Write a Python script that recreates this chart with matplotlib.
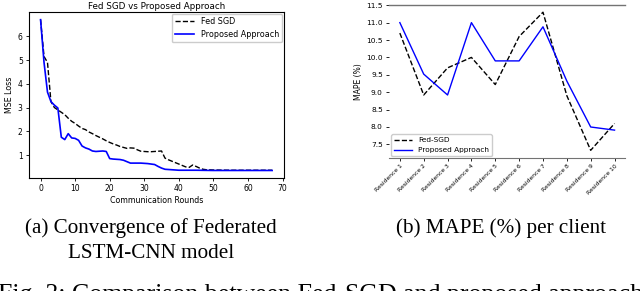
import matplotlib
matplotlib.use('Agg')
import matplotlib.pyplot as plt

# (a) convergence (round, loss) breakpoints
fed_rounds = [0, 1, 2, 3, 4, 5, 6, 7, 8, 9, 10, 11, 12, 13, 14, 15, 16, 17,
              18, 19, 20, 21, 22, 23, 24, 25, 26, 27, 28, 29, 30, 31, 32, 33,
              34, 35, 36, 37, 38, 39, 40, 41, 42, 43, 44, 45, 46, 47, 48, 50,
              55, 60, 67]
fed_loss = [6.7, 5.15, 4.9, 3.25, 3.0, 2.9, 2.8, 2.7, 2.55, 2.42, 2.33, 2.22,
            2.12, 2.07, 1.97, 1.9, 1.82, 1.75, 1.68, 1.6, 1.53, 1.47, 1.42,
            1.36, 1.32, 1.28, 1.3, 1.29, 1.22, 1.16, 1.15, 1.14, 1.14, 1.15,
            1.16, 1.17, 0.87, 0.8, 0.74, 0.68, 0.62, 0.56, 0.5, 0.48, 0.58,
            0.52, 0.45, 0.4, 0.38, 0.37, 0.36, 0.36, 0.36]

prop_rounds = [0, 1, 2, 3, 4, 5, 6, 7, 8, 9, 10, 11, 12, 13, 14, 15, 16, 17,
               18, 19, 20, 21, 22, 23, 24, 25, 26, 27, 28, 29, 30, 31, 32, 33,
               34, 35, 36, 38, 40, 45, 50, 60, 67]
prop_loss = [6.7, 4.9, 3.65, 3.25, 3.1, 2.98, 1.75, 1.65, 1.9, 1.72, 1.7,
             1.62, 1.38, 1.3, 1.25, 1.17, 1.15, 1.16, 1.17, 1.15, 0.85, 0.83,
             0.82, 0.81, 0.78, 0.72, 0.66, 0.66, 0.66, 0.66, 0.65, 0.64, 0.62,
             0.6, 0.52, 0.45, 0.4, 0.38, 0.36, 0.36, 0.35, 0.35, 0.35]

# (b) MAPE per client
residences = ['Residence %d' % i for i in range(1, 11)]
fed_mape = [10.7, 8.92, 9.7, 10.0, 9.22, 10.6, 11.3, 8.9, 7.33, 8.1]
prop_mape = [11.0, 9.52, 8.92, 11.0, 9.9, 9.9, 10.88, 9.32, 8.0, 7.91]

fig = plt.figure(figsize=(6.4, 2.91), dpi=100)

ax1 = fig.add_axes([0.0453, 0.3883, 0.398, 0.570])
ax1.plot(fed_rounds, fed_loss, color='black', linestyle='--', linewidth=1.0,
         label='Fed SGD')
ax1.plot(prop_rounds, prop_loss, color='blue', linewidth=1.2,
         label='Proposed Approach')
ax1.set_xticks([0, 10, 20, 30, 40, 50, 60, 70])
ax1.set_yticks([1, 2, 3, 4, 5, 6])
ax1.set_title('Fed SGD vs Proposed Approach', fontsize=6.3, pad=2)
ax1.set_xlabel('Communication Rounds', fontsize=5.7, labelpad=2)
ax1.set_ylabel('MSE Loss', fontsize=5.7, labelpad=3)
ax1.tick_params(labelsize=5.5, length=2.5, width=0.6, pad=2)
for sp in ax1.spines.values():
    sp.set_linewidth(0.8)
ax1.legend(loc='upper right', fontsize=5.8, borderaxespad=0.2,
           handlelength=2.4, framealpha=1.0)

ax2 = fig.add_axes([0.608, 0.456, 0.369, 0.526])
ax2.plot(residences, fed_mape, color='black', linestyle='--', linewidth=1.0,
         label='Fed-SGD')
ax2.plot(residences, prop_mape, color='blue', linewidth=1.0,
         label='Proposed Approach')
ax2.set_ylim(7.1, 11.5)
ax2.set_yticks([7.5, 8.0, 8.5, 9.0, 9.5, 10.0, 10.5, 11.0, 11.5])
ax2.set_ylabel('MAPE (%)', fontsize=5.5, labelpad=2)
ax2.tick_params(axis='y', labelsize=5.3, length=2.5, width=0.6, pad=2)
ax2.tick_params(axis='x', labelsize=4.3, length=2.5, width=0.6, pad=1)
plt.setp(ax2.get_xticklabels(), rotation=45, ha='right',
         rotation_mode='anchor')
ax2.spines['left'].set_visible(False)
ax2.spines['right'].set_visible(False)
ax2.spines['top'].set_color('0.45')
ax2.spines['bottom'].set_color('0.45')
ax2.spines['top'].set_linewidth(1.0)
ax2.legend(loc='lower left', fontsize=5.3, borderaxespad=0.3,
           handlelength=2.4, framealpha=1.0)

serif = ['Liberation Serif', 'DejaVu Serif']
fig.text(0.236, 0.216, '(a) Convergence of Federated', fontsize=15.2,
         family=serif, ha='center', va='center')
fig.text(0.236, 0.130, 'LSTM-CNN model', fontsize=15.2, family=serif,
         ha='center', va='center')
fig.text(0.783, 0.216, '(b) MAPE (%) per client', fontsize=15.2,
         family=serif, ha='center', va='center')
# caption is cut off at the bottom edge in the original too
fig.text(0.5, -0.035, 'Fig. 3: Comparison between Fed-SGD and proposed approach',
         fontsize=18.6, family=serif, ha='center', va='baseline')

fig.savefig('out.png', dpi=100)
